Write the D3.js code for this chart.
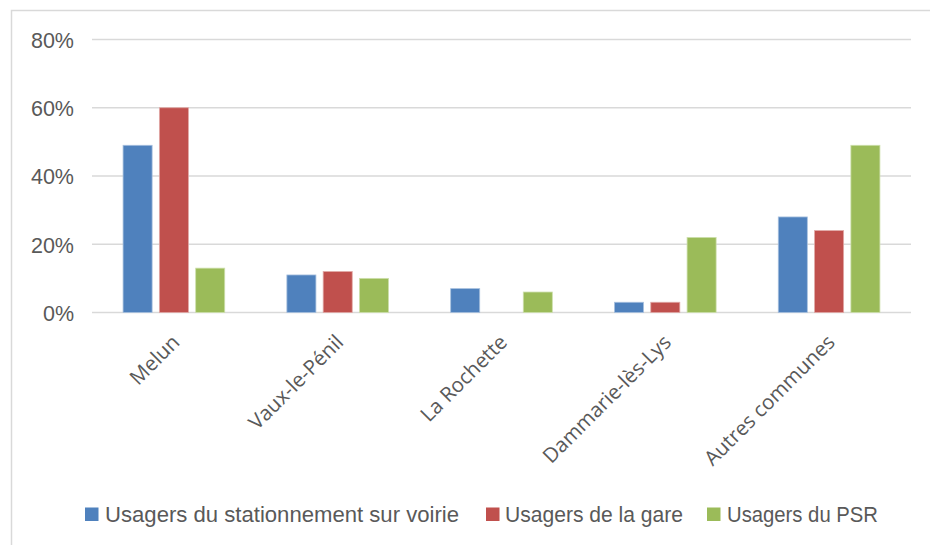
<!DOCTYPE html>
<html>
<head>
<meta charset="utf-8">
<script src="https://cdn.jsdelivr.net/npm/d3@7"></script>
<style>
  html, body { margin: 0; padding: 0; background: #ffffff; }
  svg { display: block; }
</style>
</head>
<body>
<svg id="chart" width="930" height="545"></svg>
<script>
// Communes of origin
const categories = ["Melun", "Vaux-le-Pénil", "La Rochette", "Dammarie-lès-Lys", "Autres communes"];

// Share of users per commune (%)
const seriesNames = ["Usagers du stationnement sur voirie", "Usagers de la gare", "Usagers du PSR"];
const voirieValues = [49, 11, 7, 3, 28];
const gareValues   = [60, 12, 0, 3, 24];
const psrValues    = [13, 10, 6, 22, 49];

const yTicks = [0, 20, 40, 60, 80];
const yTickLabels = ["0%", "20%", "40%", "60%", "80%"];

const colors = ["#4f81bd", "#c0504d", "#9bbb59"];
const strokes = ["#a7c0de", "#e0a8a6", "#cddfac"];

const seriesValues = [voirieValues, gareValues, psrValues];

const svg = d3.select("#chart");

// Outer frame of the chart area
svg.append("rect")
  .attr("x", 11.5).attr("y", 10.5)
  .attr("width", 940).attr("height", 560)
  .attr("fill", "none")
  .attr("stroke", "#d9d9d9")
  .attr("stroke-width", 1.5);

const plot = { left: 92, right: 911, top: 39.5, bottom: 312.5 };

const y = d3.scaleLinear().domain([0, 80]).range([plot.bottom, plot.top]);
const x0 = d3.scaleBand().domain(categories).range([plot.left, plot.right]).padding(0);
const x1 = d3.scaleBand().domain(d3.range(seriesNames.length))
  .range([0, x0.bandwidth()])
  .paddingInner(0.2)
  .paddingOuter(0.856);

// Horizontal gridlines (including the baseline)
svg.append("g")
  .selectAll("line")
  .data(yTicks)
  .join("line")
  .attr("x1", plot.left).attr("x2", plot.right)
  .attr("y1", d => y(d)).attr("y2", d => y(d))
  .attr("stroke", "#d9d9d9")
  .attr("stroke-width", 1.5);

// Y axis labels
const yAxis = d3.axisLeft(y)
  .tickValues(yTicks)
  .tickSize(0)
  .tickPadding(0)
  .tickFormat((d, i) => yTickLabels[i]);

svg.append("g")
  .attr("transform", `translate(74,0)`)
  .call(yAxis)
  .call(g => g.select(".domain").remove())
  .call(g => g.selectAll("text")
    .attr("fill", "#595959")
    .attr("font-family", "'Liberation Sans', Arial, sans-serif")
    .attr("font-size", 21.5)
    .attr("dy", "0.36em"));

// Bars
const groups = svg.append("g")
  .selectAll("g")
  .data(categories)
  .join("g")
  .attr("transform", c => `translate(${x0(c)},0)`);

groups.selectAll("rect")
  .data((c, ci) => seriesValues.map((vals, si) => ({ si, v: vals[ci] })).filter(d => d.v > 0))
  .join("rect")
  .attr("x", d => x1(d.si))
  .attr("width", x1.bandwidth())
  .attr("y", d => y(d.v))
  .attr("height", d => y(0) - y(d.v))
  .attr("fill", d => colors[d.si])
  .attr("stroke", d => strokes[d.si])
  .attr("stroke-width", 0.8);

// Category labels, rotated
const xAxis = d3.axisBottom(x0).tickSize(0).tickPadding(0);
svg.append("g")
  .attr("transform", `translate(0,${plot.bottom})`)
  .call(xAxis)
  .call(g => g.select(".domain").remove())
  .call(g => g.selectAll("text")
    .attr("fill", "#595959")
    .attr("font-family", "'Open Sans', 'Noto Sans', sans-serif")
    .attr("font-size", 20.5)
    .attr("text-anchor", "end")
    .attr("dy", 0)
    .attr("y", 0)
    .attr("transform", "translate(7,31) rotate(-45)"));

// Legend
const legendItems = [
  { x: 85, tx: 105, w: 354 },
  { x: 486, tx: 505, w: 178 },
  { x: 707, tx: 727, w: 151 }
];
const legend = svg.append("g");
seriesNames.forEach((name, i) => {
  const it = legendItems[i];
  legend.append("rect")
    .attr("x", it.x).attr("y", 507.5)
    .attr("width", 13.5).attr("height", 13.5)
    .attr("fill", colors[i]);
  legend.append("text")
    .attr("x", it.tx).attr("y", 521.5)
    .attr("fill", "#595959")
    .attr("font-family", "'Liberation Sans', Arial, sans-serif")
    .attr("font-size", 22)
    .attr("textLength", it.w)
    .attr("lengthAdjust", "spacingAndGlyphs")
    .text(name);
});
</script>
</body>
</html>
